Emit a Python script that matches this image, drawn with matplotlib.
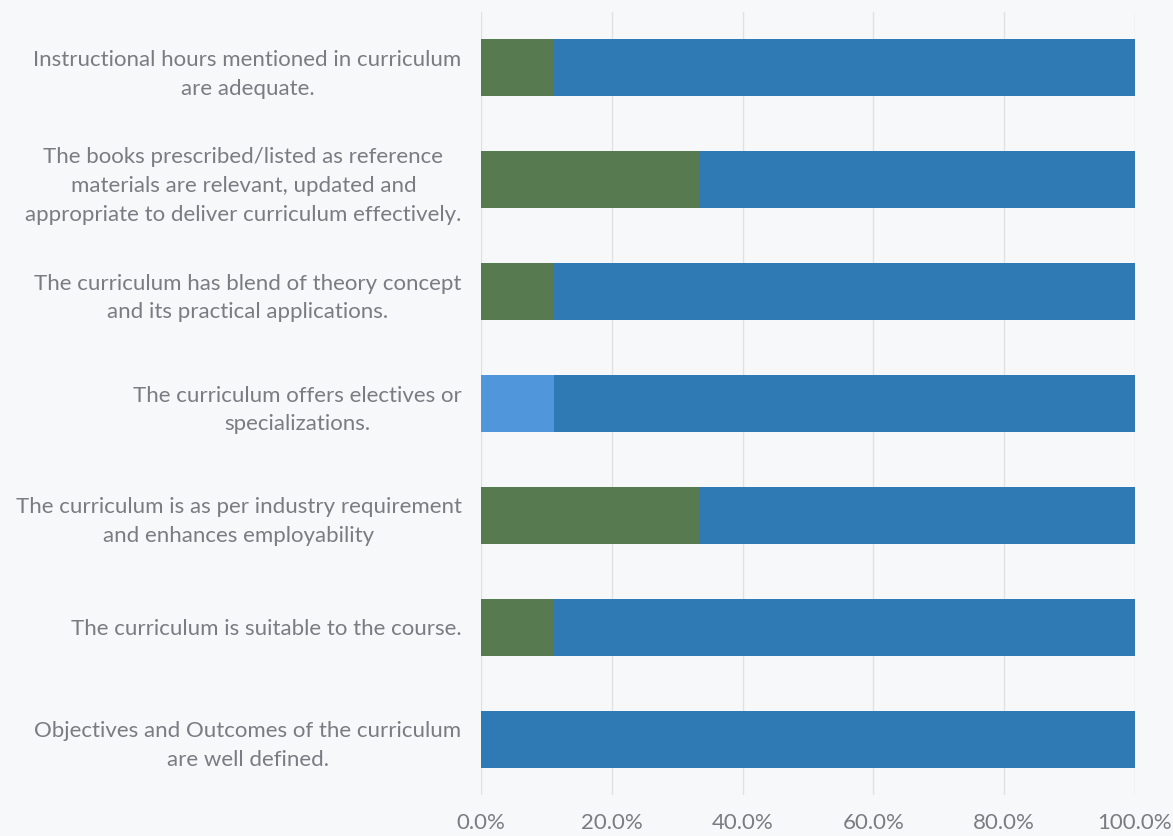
import numpy as np
import matplotlib.pyplot as plt

# categories, bottom to top
categories = [
    "Objectives and Outcomes of the curriculum\nare well defined.",
    "The curriculum is suitable to the course.",
    "The curriculum is as per industry requirement\nand enhances employability",
    "The curriculum offers electives or\nspecializations.",
    "The curriculum has blend of theory concept\nand its practical applications.",
    "The books prescribed/listed as reference\nmaterials are relevant, updated and\nappropriate to deliver curriculum effectively.",
    "Instructional hours mentioned in curriculum\nare adequate.",
]
light = np.array([0, 0, 0, 11.1, 0, 0, 0])
green = np.array([0, 11.1, 33.3, 0, 11.1, 33.3, 11.1])
blue = 100 - light - green

plt.rcParams['font.family'] = ['Lato', 'DejaVu Sans']
bg = '#f7f8fa'
fig = plt.figure(figsize=(11.73, 8.36), dpi=100, facecolor=bg)
ax = fig.add_axes([481/1173, 1-795/836, 654/1173, 783/836], facecolor=bg)

y = np.arange(len(categories))
h = 0.51
ax.barh(y, light, h, color='#4f97da', zorder=3)
ax.barh(y, green, h, left=light, color='#587a50', zorder=3)
ax.barh(y, blue, h, left=light + green, color='#2f79b5', zorder=3)

ax.set_xlim(0, 100)
ax.set_ylim(-0.5, 6.5)
ax.set_xticks(np.arange(0, 101, 20))
ax.set_xticklabels([f"{v:.1f}%" for v in np.arange(0, 101, 20)])
ax.set_yticks(y)
ax.set_yticklabels(categories, multialignment='center')
ax.grid(axis='x', color='#e0e1e4', lw=1, zorder=0)
for s in ax.spines.values():
    s.set_visible(False)
ax.tick_params(length=0, labelsize=16, labelcolor='#7b7b82')
ax.tick_params(axis='y', pad=14)
ax.tick_params(axis='x', pad=13)
for t in ax.get_yticklabels():
    t.set_linespacing(1.55)

fig.savefig("out.png", dpi=100, facecolor=bg)
